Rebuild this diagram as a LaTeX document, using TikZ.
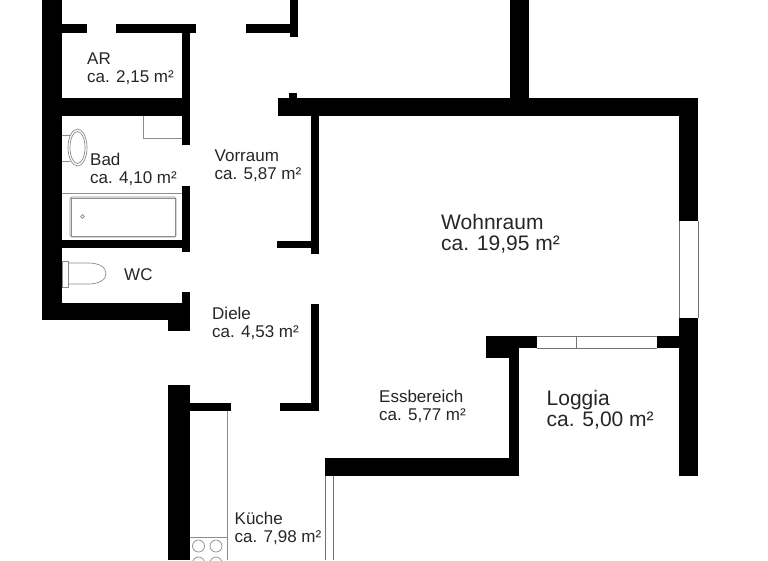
\documentclass[tikz,border=0pt]{standalone}
\usepackage{fontspec}
\setmainfont{Liberation Sans}
\tikzstyle{wall} = [fill=black, draw=none]
\tikzstyle{fixture} = [draw=black!45, line width=0.7pt]
\tikzstyle{glass} = [draw=black!55, line width=1pt]
\tikzstyle{room} = [anchor=north west, inner sep=0pt, align=left, text=black!85, font=\fontsize{17}{18}\selectfont]
\tikzstyle{bigroom} = [room, font=\fontsize{21}{21.5}\selectfont]

\begin{document}
\begin{tikzpicture}[x=1pt, y=-1pt]
			\clip (0,0) rectangle (768,560);
			\fill[white] (0,0) rectangle (768,560);
			% walls
			\foreach \xa/\ya/\xb/\yb in {
				42/0/62/320, 62/24/87/33, 116/24/196/33, 246/24/297/33, 290/0/298/37,
				182/33/190/145, 62/98/190/116, 182/186/190/252, 62/240/190/248,
				42/303/190/320, 168/320/190/331, 182/292/190/303,
				311/304/319/411, 280/403/319/411, 168/385/190/560, 190/403/231/411,
				278/98/698/116, 289/93/297/98, 510/0/529/98, 311/116/319/254, 277/241/311/248,
				679/116/698/221, 679/318/698/476, 325/458/519/476, 509/358/519/458,
				486/336/519/358, 519/336/537/348, 657/336/679/348} {
				\fill[wall] (\xa,\ya) rectangle (\xb,\yb);
			}
			% windows and doors
			\draw[glass] (537,336) -- (657,336) (537,348) -- (657,348) (576,336) -- (576,348);
			\draw[glass] (679,221) -- (679,318) (698,221) -- (698,318);
			\draw[glass] (325,476) -- (325,560) (333,476) -- (333,560);
			% bathroom
			\draw[fixture] (143,116) -- (143,138) -- (182,138);
			\draw[fixture] (62,193) -- (182,193);
			\draw[fixture, rounded corners=1.5pt] (70,197) rectangle (176,237);
			\draw[fixture] (71,198) rectangle (175,236);
			\draw[fixture] (82.5,216.5) circle (1.8);
			\draw[fixture] (62,135) -- (70,135) (62,161) -- (70,161);
			\draw[fixture] (77.5,147.5) ellipse (9.5 and 18.5);
			\draw[fixture] (77.5,147.5) ellipse (7.5 and 16);
			% toilet
			\draw[fixture] (62.5,261) rectangle (68,287);
			\draw[fixture] (68,263) -- (88,263) .. controls (99,263) and (106,267) .. (106,273.5) .. controls (106,280) and (99,284) .. (88,284) -- (68,284);
			% kitchen
			\draw[fixture] (227,411) -- (227,560) (190,537) -- (227,537);
			\foreach \cx in {198.5,216} {
				\foreach \cy in {546,563} {
					\draw[fixture] (\cx,\cy) circle (6);
				}
			}
			% rooms
			\node[room] (ar) at (87,53) {AR\\ca. 2,15 m²};
			\node[room] (bad) at (90,152.5) {Bad\\ca. 4,10 m²};
			\node[room] (vorraum) at (214.5,150) {Vorraum\\ca. 5,87 m²};
			\node[room] (wc) at (124,268) {WC};
			\node[room] (diele) at (212,306.5) {Diele\\ca. 4,53 m²};
			\node[room] (essbereich) at (379,389.5) {Essbereich\\ca. 5,77 m²};
			\node[room] (kueche) at (234.5,511.5) {Küche\\ca. 7,98 m²};
			\node[bigroom] (wohnraum) at (441,214) {Wohnraum\\ca. 19,95 m²};
			\node[bigroom] (loggia) at (546.5,390) {Loggia\\ca. 5,00 m²};
\end{tikzpicture}
\end{document}
